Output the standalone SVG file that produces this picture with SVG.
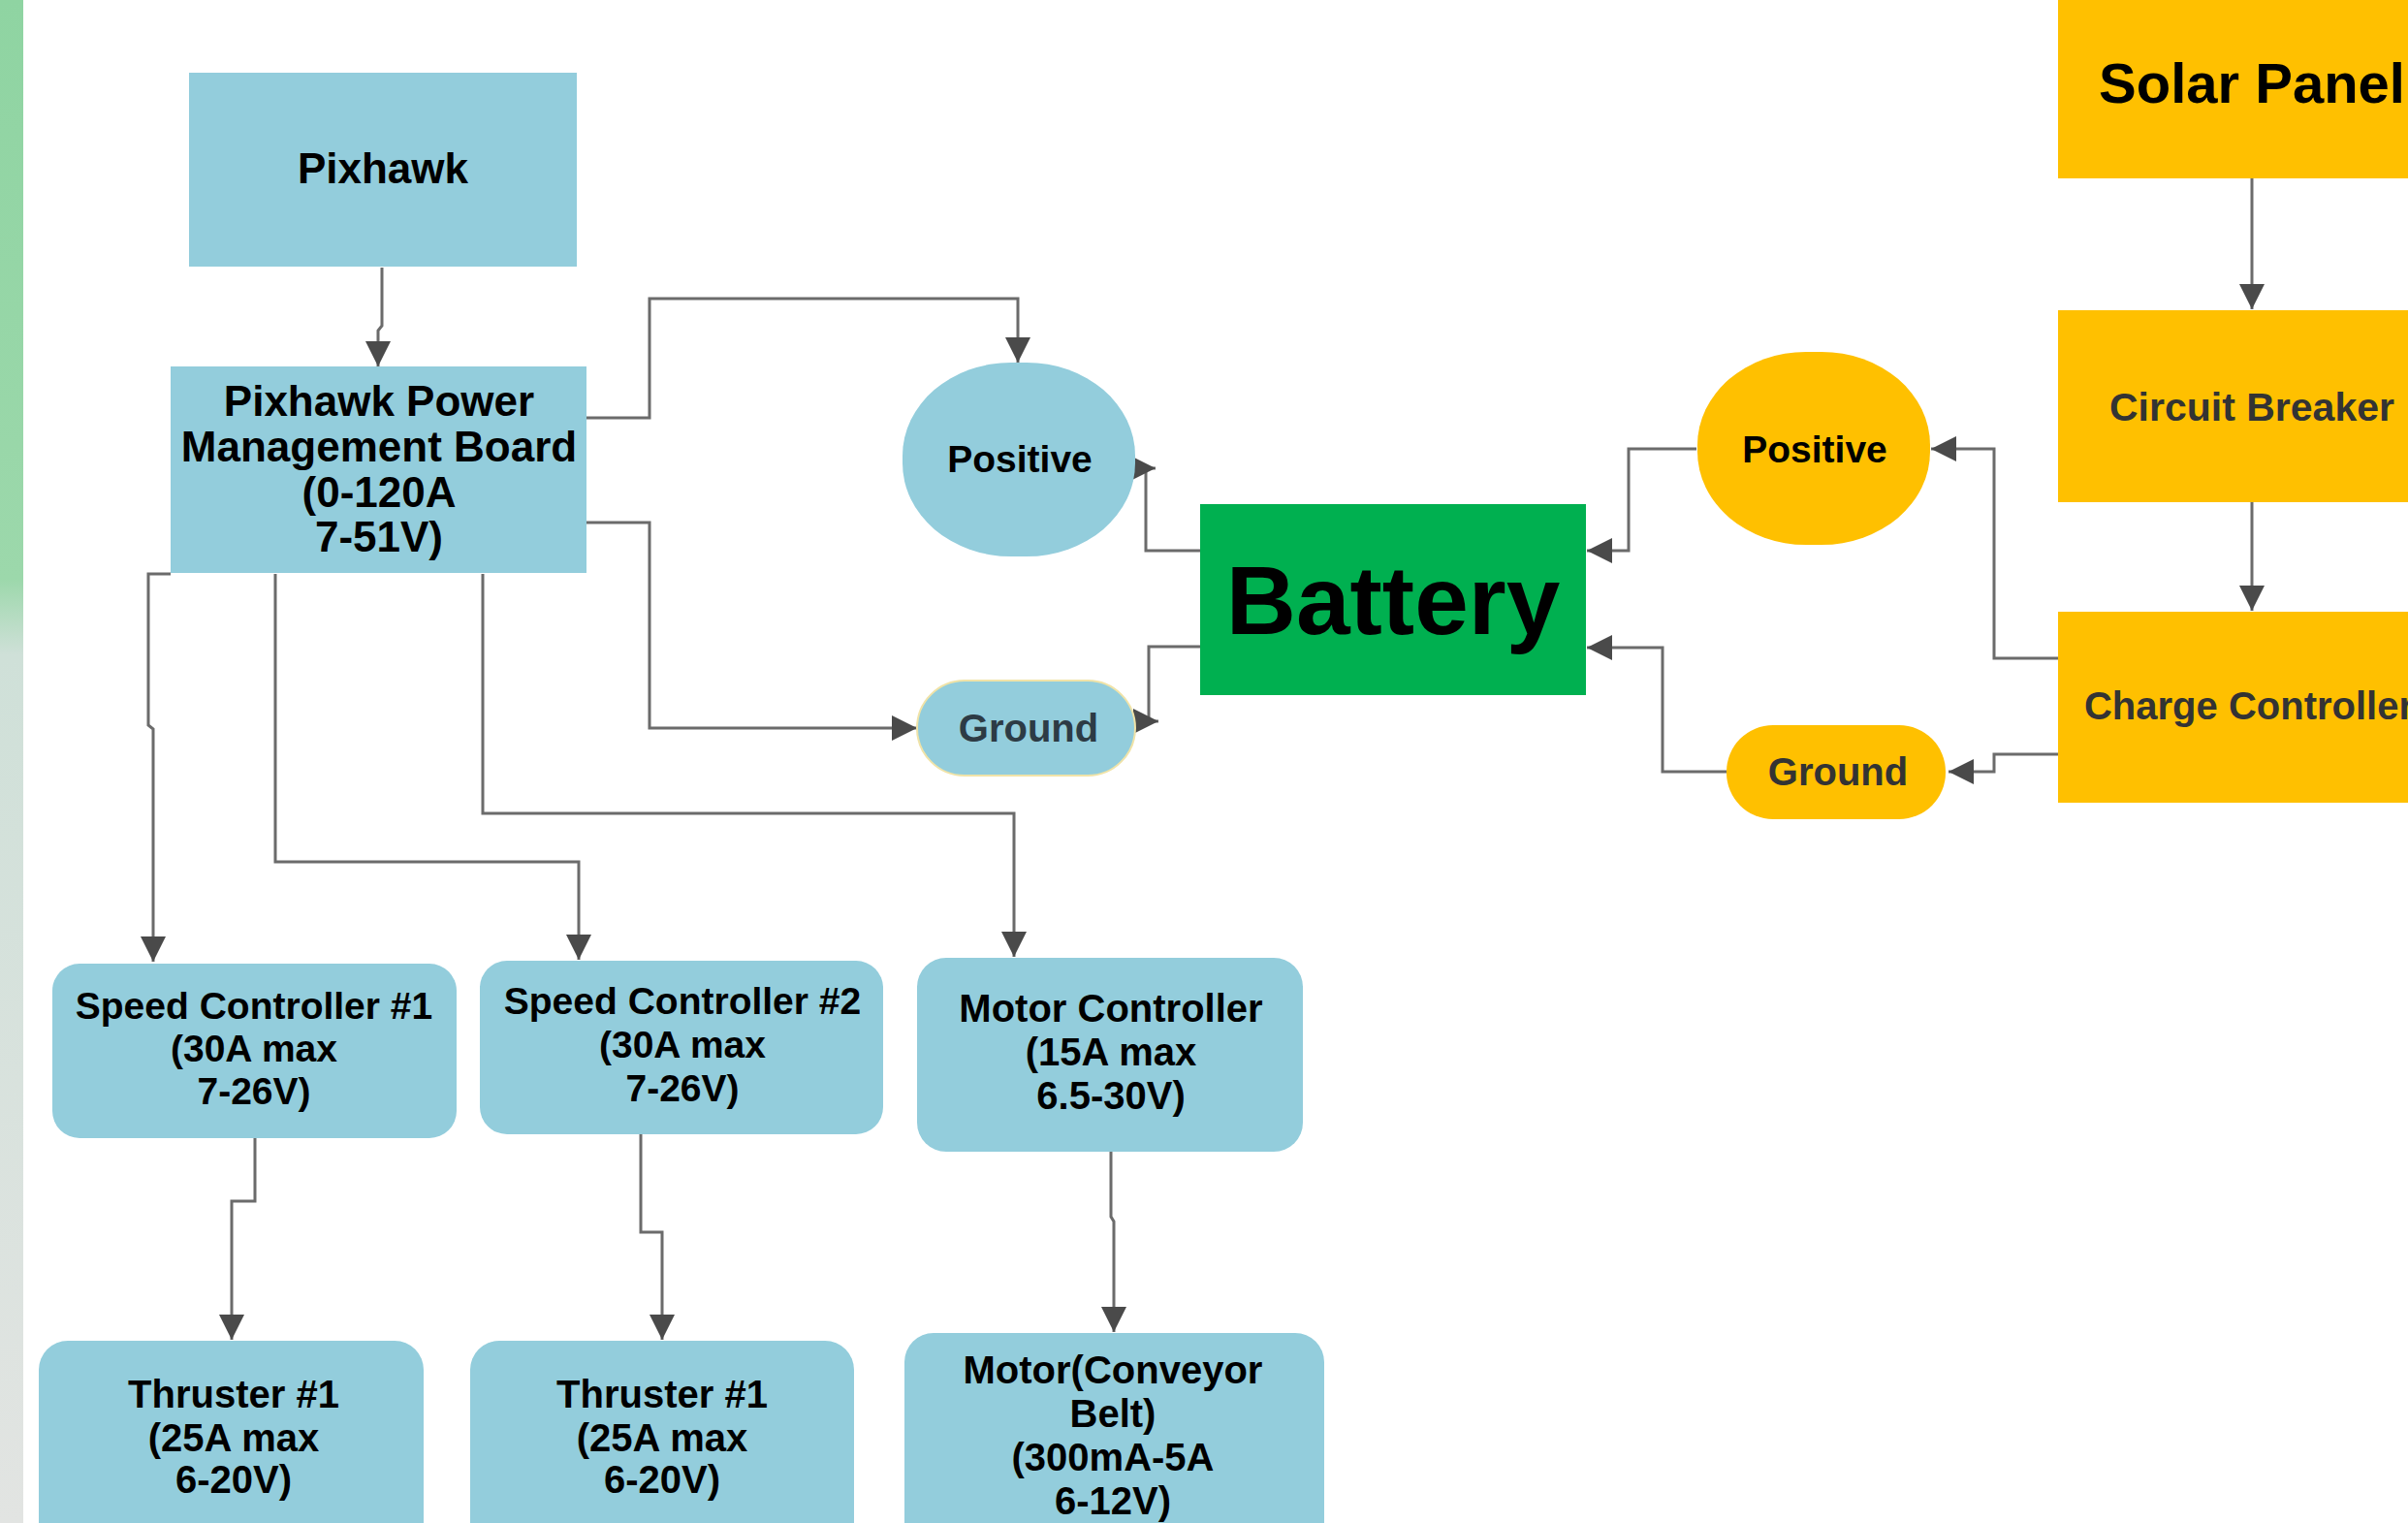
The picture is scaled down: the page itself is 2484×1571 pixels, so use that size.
<svg xmlns="http://www.w3.org/2000/svg" width="2484" height="1571" viewBox="0 0 2484 1571">
<defs>
<linearGradient id="strip" x1="0" y1="0" x2="0" y2="1">
<stop offset="0" stop-color="#8fd4a2"/>
<stop offset="0.38" stop-color="#9cd8ab"/>
<stop offset="0.43" stop-color="#cfe0d8"/>
<stop offset="1" stop-color="#e2e4e2"/>
</linearGradient>
<marker id="ah" viewBox="0 0 26 26" refX="26" refY="13" markerWidth="26" markerHeight="26" markerUnits="userSpaceOnUse" orient="auto">
<path d="M0,0 L26,13 L0,26 z" fill="#4a4a4a"/>
</marker>
<style>
.blue{fill:#93cddc}
.yellow{fill:#ffc000}
.green{fill:#00b050}
.t{font-family:"Liberation Sans",Arial,sans-serif;font-weight:bold;text-anchor:middle;fill:#000}
.g{fill:#333}
.c{fill:none;stroke:#6b6b6b;stroke-width:3;marker-end:url(#ah)}
</style>
</defs>
<rect width="2484" height="1571" fill="#ffffff"/>
<rect x="0" y="0" width="24" height="1571" fill="url(#strip)"/>

<g id="connectors">
<path class="c" d="M394,276 V336 L390,341 V378"/>
<path class="c" d="M605,431 H670 V308 H1050 V374"/>
<path class="c" d="M605,539 H670 V751 H946"/>
<path class="c" d="M176,592 H153 V748 L158,752 V992"/>
<path class="c" d="M284,592 V889 H597 V990"/>
<path class="c" d="M498,592 V839 H1046 V987"/>
<path class="c" d="M1238,568 H1182 V483 H1192"/>
<path class="c" d="M1238,667 H1185 V744 H1195"/>
<path class="c" d="M263,1174 V1239 H239 V1382"/>
<path class="c" d="M661,1170 V1271 H683 V1382"/>
<path class="c" d="M1146,1188 V1255 L1149,1260 V1374"/>
<path class="c" d="M2323,184 V319"/>
<path class="c" d="M2323,518 V630"/>
<path class="c" d="M2123,679 H2057 V463 H1992"/>
<path class="c" d="M2123,778 H2057 V796 H2010"/>
<path class="c" d="M1750,463 H1680 V568 H1637"/>
<path class="c" d="M1781,796 H1715 V668 H1637"/>
</g>

<g id="pixhawk">
<rect class="blue" x="195" y="75" width="400" height="200"/>
<text class="t" x="395" y="189" font-size="44">Pixhawk</text>
</g>
<g id="pmb">
<rect class="blue" x="176" y="378" width="429" height="213"/>
<text class="t" font-size="44"><tspan x="391" y="429">Pixhawk Power</tspan><tspan x="391" y="476">Management Board</tspan><tspan x="391" y="523">(0-120A</tspan><tspan x="391" y="569">7-51V)</tspan></text>
</g>
<g id="positive-left">
<rect class="blue" x="931" y="374" width="240" height="200" rx="112" ry="96"/>
<text class="t" x="1052" y="487" font-size="39">Positive</text>
</g>
<g id="ground-left">
<rect class="blue" x="946" y="702" width="225" height="98" rx="49" stroke="#f0e3a8" stroke-width="2"/>
<text class="t" x="1061" y="765" font-size="40" style="fill:#2d3b45">Ground</text>
</g>
<g id="battery">
<rect class="green" x="1238" y="520" width="398" height="197"/>
<text class="t" x="1437" y="654" font-size="100">Battery</text>
</g>
<g id="solar-panel">
<rect class="yellow" x="2123" y="-5" width="402" height="189"/>
<text class="t" x="2323" y="106" font-size="58">Solar Panel</text>
</g>
<g id="circuit-breaker">
<rect class="yellow" x="2123" y="320" width="402" height="198"/>
<text class="t g" x="2323" y="434" font-size="41">Circuit Breaker</text>
</g>
<g id="charge-controller">
<rect class="yellow" x="2123" y="631" width="402" height="197"/>
<text class="t g" x="2320" y="742" font-size="40">Charge Controller</text>
</g>
<g id="positive-right">
<rect class="yellow" x="1751" y="363" width="240" height="199" rx="112" ry="96"/>
<text class="t" x="1872" y="477" font-size="39">Positive</text>
</g>
<g id="ground-right">
<rect class="yellow" x="1781" y="748" width="226" height="97" rx="48"/>
<text class="t g" x="1896" y="810" font-size="40">Ground</text>
</g>
<g id="speed-controller-1">
<rect class="blue" x="54" y="994" width="417" height="180" rx="28"/>
<text class="t" font-size="39"><tspan x="262" y="1051">Speed Controller #1</tspan><tspan x="262" y="1095">(30A max</tspan><tspan x="262" y="1139">7-26V)</tspan></text>
</g>
<g id="speed-controller-2">
<rect class="blue" x="495" y="991" width="416" height="179" rx="28"/>
<text class="t" font-size="39"><tspan x="704" y="1046">Speed Controller #2</tspan><tspan x="704" y="1091">(30A max</tspan><tspan x="704" y="1136">7-26V)</tspan></text>
</g>
<g id="motor-controller">
<rect class="blue" x="946" y="988" width="398" height="200" rx="30"/>
<text class="t" font-size="40"><tspan x="1146" y="1054">Motor Controller</tspan><tspan x="1146" y="1099">(15A max</tspan><tspan x="1146" y="1144">6.5-30V)</tspan></text>
</g>
<g id="thruster-1a">
<rect class="blue" x="40" y="1383" width="397" height="220" rx="30"/>
<text class="t" font-size="40"><tspan x="241" y="1452">Thruster #1</tspan><tspan x="241" y="1497">(25A max</tspan><tspan x="241" y="1540">6-20V)</tspan></text>
</g>
<g id="thruster-1b">
<rect class="blue" x="485" y="1383" width="396" height="220" rx="30"/>
<text class="t" font-size="40"><tspan x="683" y="1452">Thruster #1</tspan><tspan x="683" y="1497">(25A max</tspan><tspan x="683" y="1540">6-20V)</tspan></text>
</g>
<g id="motor">
<rect class="blue" x="933" y="1375" width="433" height="230" rx="30"/>
<text class="t" font-size="40"><tspan x="1148" y="1427">Motor(Conveyor</tspan><tspan x="1148" y="1472">Belt)</tspan><tspan x="1148" y="1517">(300mA-5A</tspan><tspan x="1148" y="1562">6-12V)</tspan></text>
</g>
</svg>
